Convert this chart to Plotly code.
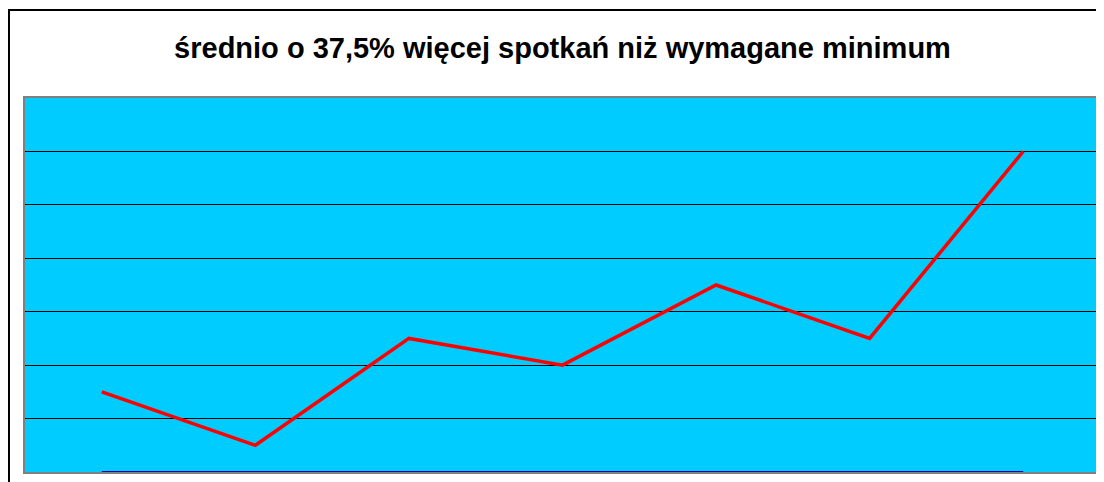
import plotly.graph_objects as go

CATEGORIES = ["1", "2", "3", "4", "5", "6", "7"]
VALUES = [1.5, 0.5, 2.5, 2.0, 3.5, 2.5, 6.0]
TITLE = "średnio o 37,5% więcej spotkań niż wymagane minimum"

CYAN = "#00ccff"
RED = "#ff0000"
NAVY = "#0000b0"
FRAME = "#808080"
FONT = "Liberation Sans, Arial, sans-serif"

fig = go.Figure()

fig.add_trace(go.Scatter(
    x=CATEGORIES, y=VALUES, mode="lines",
    line=dict(color=RED, width=3.5), cliponaxis=False,
))
# baseline drawn between first and last category, like the original axis
fig.add_trace(go.Scatter(
    x=[CATEGORIES[0], CATEGORIES[-1]], y=[0, 0], mode="lines",
    line=dict(color=NAVY, width=2), cliponaxis=False, hoverinfo="skip",
))

# outer chart border
fig.add_shape(type="rect", xref="paper", yref="paper",
              x0=-0.0149, x1=1.01, y0=-0.1, y1=1.2353,
              line=dict(color="#000000", width=2), layer="below")

fig.update_layout(
    width=1104, height=482,
    paper_bgcolor="#ffffff", plot_bgcolor=CYAN,
    margin=dict(l=17, r=10, t=90, b=18),
    showlegend=False,
    font=dict(family=FONT, color="#000000"),
    title=dict(text="<b>" + TITLE + "</b>", x=0.5, xref="paper",
               xanchor="center", y=1 - 40 / 482, yanchor="middle",
               font=dict(size=29, family=FONT, color="#000000")),
)
fig.update_xaxes(type="category", categoryorder="array",
                 categoryarray=CATEGORIES, range=[-0.5, 6.5],
                 showgrid=False, showticklabels=False, ticks="",
                 zeroline=False, showline=True, linecolor=FRAME,
                 linewidth=2, mirror=True, layer="below traces")
fig.update_yaxes(range=[0, 7], dtick=1, showgrid=True, gridcolor="#000000",
                 gridwidth=1, showticklabels=False, ticks="", zeroline=False,
                 showline=True, linecolor=FRAME, linewidth=2, mirror=True)

fig.write_html("out.html")
